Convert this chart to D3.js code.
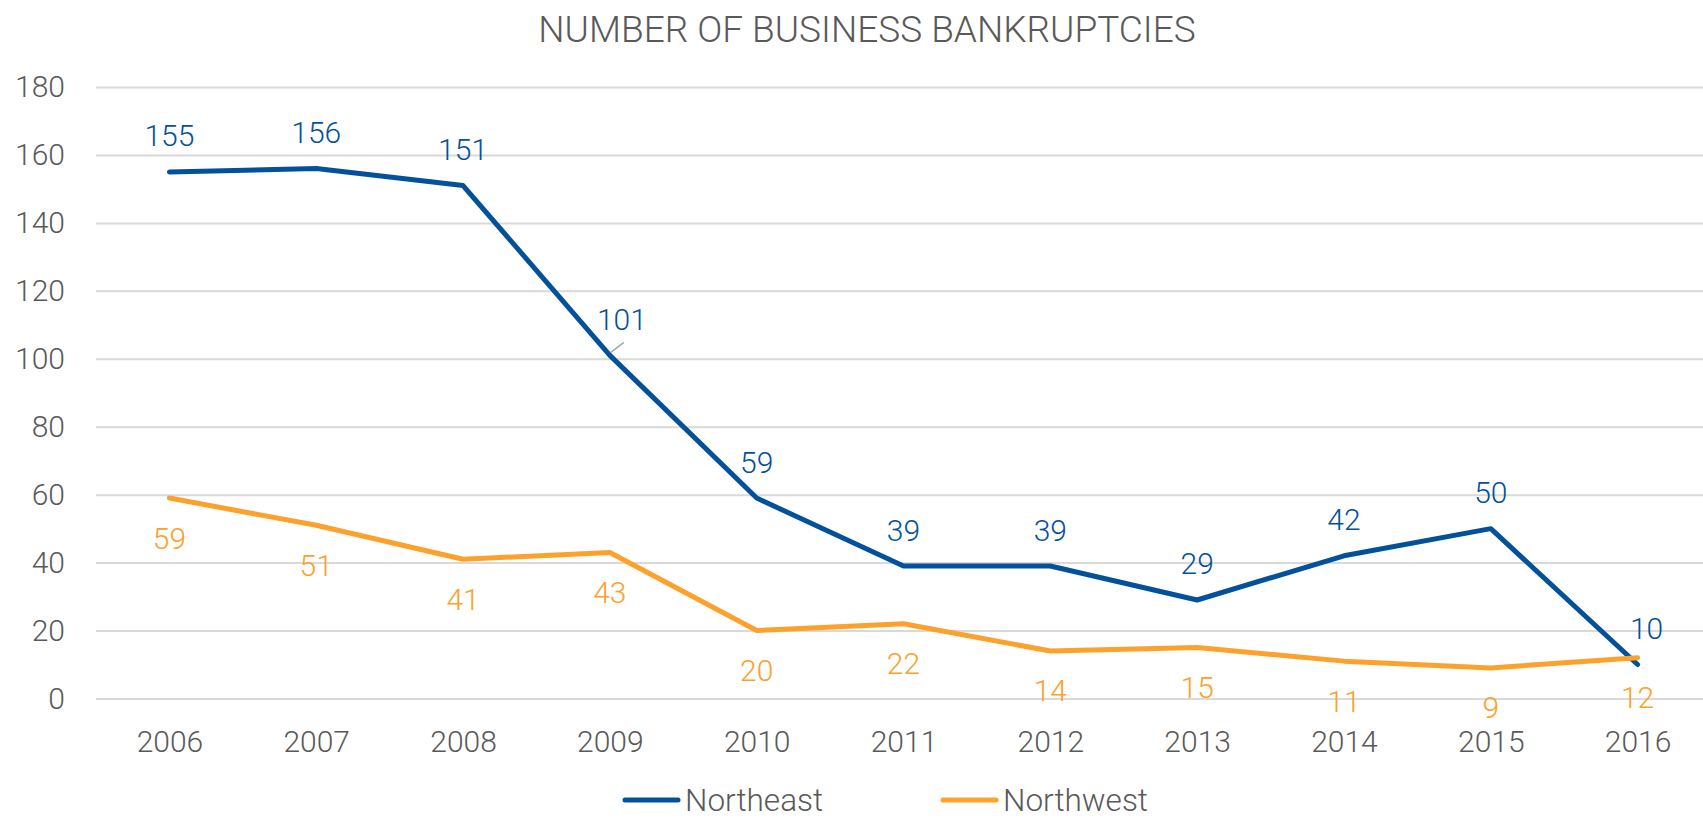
<!DOCTYPE html>
<html>
<head>
<meta charset="utf-8">
<script src="https://cdn.jsdelivr.net/npm/d3@7"></script>
<style>
  body { margin: 0; background: #fff; }
  text { font-family: Roboto, "Open Sans", sans-serif; }
</style>
</head>
<body>
<script>
var years = ["2006", "2007", "2008", "2009", "2010", "2011", "2012", "2013", "2014", "2015", "2016"];
var northeast = [155, 156, 151, 101, 59, 39, 39, 29, 42, 50, 10];
var northwest = [59, 51, 41, 43, 20, 22, 14, 15, 11, 9, 12];
var yTicks = [0, 20, 40, 60, 80, 100, 120, 140, 160, 180];
var seriesNames = ["Northeast", "Northwest"];

var width = 1703, height = 819;
var plotLeft = 96, plotRight = 1711, plotTop = 87, plotBottom = 698.5;
var blue = "#03519b", orange = "#fca12b", grey = "#595959";

var svg = d3.select("body").append("svg")
  .attr("width", width)
  .attr("height", height);

var x = d3.scalePoint().domain(years).range([plotLeft, plotRight]).padding(0.5);
var y = d3.scaleLinear().domain([0, 180]).range([plotBottom, plotTop]);

// title
svg.append("text")
  .attr("x", 867)
  .attr("y", 42)
  .attr("text-anchor", "middle")
  .attr("font-size", 37)
  .attr("font-weight", 300)
  .attr("fill", grey)
  .text("NUMBER OF BUSINESS BANKRUPTCIES");

// y axis + gridlines
var yAxis = svg.append("g")
  .attr("transform", "translate(" + plotLeft + ",0)")
  .call(d3.axisLeft(y).tickValues(yTicks).tickSize(-(plotRight - plotLeft)).tickPadding(31));
yAxis.select(".domain").remove();
yAxis.selectAll(".tick line").attr("stroke", "#d9d9d9").attr("stroke-width", 2);
yAxis.selectAll(".tick text")
  .attr("fill", grey)
  .attr("font-size", 30)
  .attr("font-weight", 300)
  .attr("font-family", "Roboto, sans-serif");

// x axis
var xAxis = svg.append("g")
  .attr("transform", "translate(0," + plotBottom + ")")
  .call(d3.axisBottom(x).tickSize(0).tickPadding(32));
xAxis.select(".domain").remove();
xAxis.selectAll(".tick text")
  .attr("fill", grey)
  .attr("font-size", 30)
  .attr("font-weight", 300)
  .attr("font-family", "Roboto, sans-serif");

var line = d3.line()
  .x(function(d, i) { return x(years[i]); })
  .y(function(d) { return y(d); });

var series = [
  {name: seriesNames[0], values: northeast, color: blue, dy: -36},
  {name: seriesNames[1], values: northwest, color: orange, dy: 40}
];

series.forEach(function(s) {
  svg.append("path")
    .datum(s.values)
    .attr("d", line)
    .attr("fill", "none")
    .attr("stroke", s.color)
    .attr("stroke-width", 5)
    .attr("stroke-linejoin", "round")
    .attr("stroke-linecap", "round");
});

// a couple of labels Excel nudged sideways
var nudge = {"Northeast": {"2009": 12, "2016": 9}};

// leader line for the moved 101 label
var lx = x("2009"), ly = y(101);
svg.append("line")
  .attr("x1", lx + 1).attr("y1", ly - 3)
  .attr("x2", lx + 14).attr("y2", ly - 13)
  .attr("stroke", "#a6a6a6")
  .attr("stroke-width", 1.5);

series.forEach(function(s) {
  svg.append("g")
    .selectAll("text")
    .data(s.values)
    .enter().append("text")
    .attr("x", function(d, i) {
      var n = (nudge[s.name] && nudge[s.name][years[i]]) || 0;
      return x(years[i]) + n;
    })
    .attr("y", function(d) { return y(d) + s.dy; })
    .attr("dy", "0.35em")
    .attr("text-anchor", "middle")
    .attr("font-size", 30)
    .attr("font-weight", 300)
    .attr("fill", s.color)
    .text(function(d) { return d; });
});

// legend
var legendX = [625, 943];
var legend = svg.append("g")
  .selectAll("g")
  .data(series)
  .enter().append("g")
  .attr("transform", function(d, i) { return "translate(" + legendX[i] + ",800)"; });
legend.append("line")
  .attr("x1", 0).attr("x2", 53)
  .attr("stroke", function(d) { return d.color; })
  .attr("stroke-width", 5)
  .attr("stroke-linecap", "round");
legend.append("text")
  .attr("x", 60)
  .attr("dy", "0.35em")
  .attr("font-size", 31.5)
  .attr("font-weight", 300)
  .attr("fill", grey)
  .text(function(d) { return d.name; });
</script>
</body>
</html>
